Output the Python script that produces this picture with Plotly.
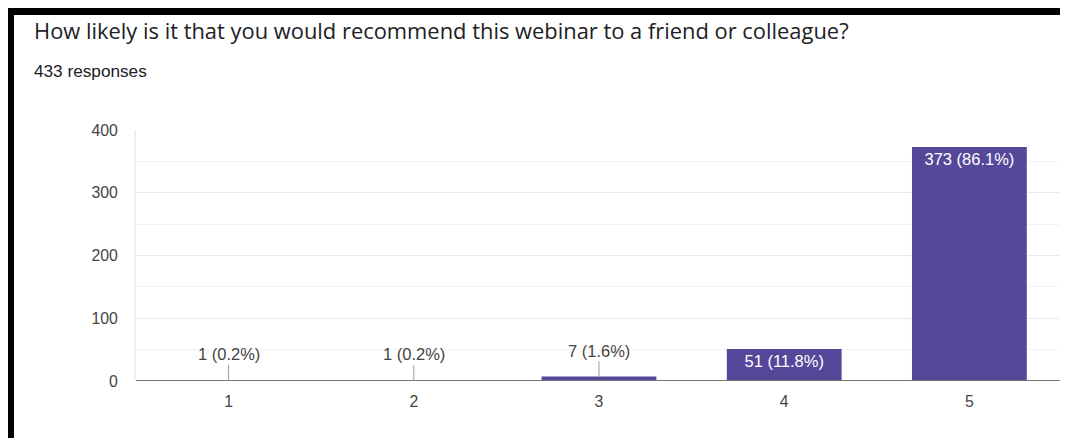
import plotly.graph_objects as go

categories = ["1", "2", "3", "4", "5"]
counts = [1, 1, 7, 51, 373]
percent_labels = ["0.2%", "0.2%", "1.6%", "11.8%", "86.1%"]
y_ticks = [0, 100, 200, 300, 400]
title_text = "How likely is it that you would recommend this webinar to a friend or colleague?"
subtitle_text = "433 responses"

# Page is rendered with an 8px body margin; layout numbers are in screen pixels
OFF = 8
W, H = 1068, 438
ML = 136 - OFF
MT = 130 - OFF
MR = W - (1062 - OFF)
MB = H - (381 - OFF)
PW, PH = W - ML - MR, H - MT - MB


def px_x(sx):
    return (sx - OFF - ML) / PW


def px_y(sy):
    return (H - MB - (sy - OFF)) / PH


bar_color = "#55479a"
label_font = "Arial, Liberation Sans, sans-serif"
labels = [f"{c} ({p})" for c, p in zip(counts, percent_labels)]
inside_threshold = 30
inside_text = [l if c >= inside_threshold else "" for l, c in zip(labels, counts)]

fig = go.Figure()
fig.add_trace(go.Bar(
    x=categories, y=counts,
    marker=dict(color=bar_color, line=dict(width=0)),
    text=inside_text, textposition="inside", insidetextanchor="end",
    textfont=dict(color="white", size=16.5, family=label_font),
    insidetextfont=dict(color="white", size=16.5, family=label_font),
    textangle=0, width=0.62, hoverinfo="skip",
))

annotations = []
for i, (c, l) in enumerate(zip(counts, labels)):
    if c < inside_threshold:
        annotations.append(dict(
            x=i, y=c, xref="x", yref="y", text=l, showarrow=True,
            arrowhead=0, arrowwidth=1, arrowcolor="#9e9e9e", ax=0, ay=-26,
            standoff=0, startstandoff=0,
            font=dict(size=16.5, color="#444444", family=label_font),
        ))

annotations.append(dict(
    x=px_x(32), y=px_y(31), xref="paper", yref="paper", xanchor="left", yanchor="middle",
    text=title_text, showarrow=False,
    font=dict(size=21.9, color="#202124", family="Open Sans, sans-serif"),
))
annotations.append(dict(
    x=px_x(32), y=px_y(71), xref="paper", yref="paper", xanchor="left", yanchor="middle",
    text=subtitle_text, showarrow=False,
    font=dict(size=17.2, color="#202124", family=label_font),
))

shapes = [
    # baseline drawn above the bars
    dict(type="line", xref="paper", yref="y", x0=0, x1=1, y0=0, y1=0,
         line=dict(color="#757575", width=2), layer="above"),
    dict(type="rect", xref="paper", yref="paper", x0=px_x(6), x1=px_x(W + 20),
         y0=px_y(15), y1=px_y(7), fillcolor="black", line=dict(width=0), layer="above"),
    dict(type="rect", xref="paper", yref="paper", x0=px_x(6), x1=px_x(14),
         y0=px_y(H + 20), y1=px_y(7), fillcolor="black", line=dict(width=0), layer="above"),
]

fig.update_layout(
    width=W, height=H,
    margin=dict(l=ML, r=MR, t=MT, b=MB, pad=0),
    paper_bgcolor="white", plot_bgcolor="white",
    showlegend=False,
    annotations=annotations,
    shapes=shapes,
    font=dict(family=label_font, color="#444444"),
)
fig.update_yaxes(
    range=[0, 400], tickvals=y_ticks, ticktext=[str(v) for v in y_ticks],
    showgrid=True, gridcolor="#ebebeb", gridwidth=1,
    minor=dict(dtick=50, showgrid=True, gridcolor="#f3f3f3", gridwidth=1),
    showline=True, linecolor="#f0f0f0", linewidth=2, mirror=True,
    ticks="outside", ticklen=13, tickcolor="rgba(0,0,0,0)",
    tickfont=dict(size=15.8, color="#444444"),
    zeroline=False, fixedrange=True,
)
fig.update_xaxes(
    showline=False,
    ticks="outside", ticklen=6, tickcolor="rgba(0,0,0,0)",
    tickfont=dict(size=15.8, color="#444444"),
    showgrid=False, fixedrange=True,
)

fig.write_html("out.html", config={"displayModeBar": False})
